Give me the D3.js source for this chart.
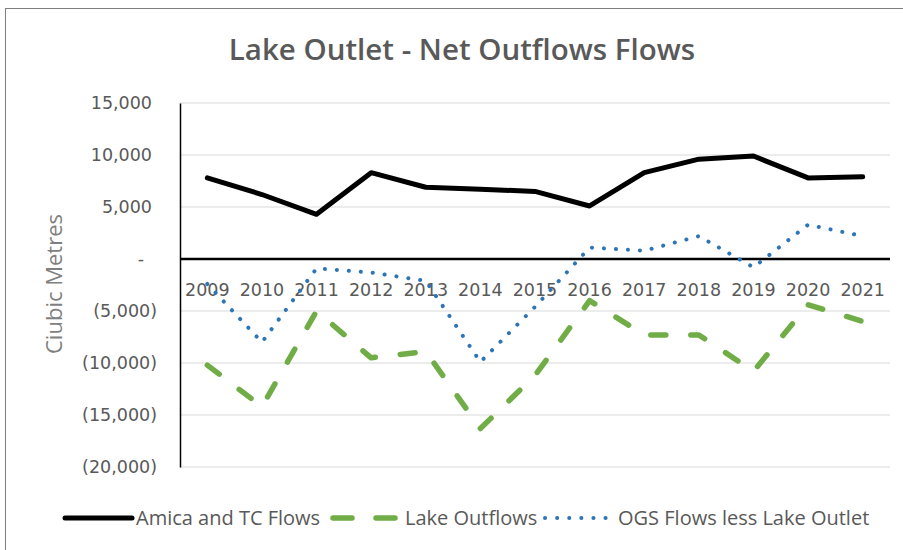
<!DOCTYPE html>
<html>
<head>
<meta charset="utf-8">
<script src="https://cdn.jsdelivr.net/npm/d3@7"></script>
<style>
  body { margin: 0; background: #fff; }
  svg { display: block; }
</style>
</head>
<body>
<div id="chart"></div>
<script>
const years = ['2009','2010','2011','2012','2013','2014','2015','2016','2017','2018','2019','2020','2021'];
const amica = [7800, 6200, 4300, 8300, 6900, 6700, 6500, 5100, 8300, 9600, 9900, 7800, 7900];
const lakeOutflows = [-10200, -14200, -5000, -9500, -8900, -16300, -11200, -4000, -7300, -7300, -10800, -4400, -6000];
const ogs = [-2400, -8000, -900, -1300, -2100, -9900, -4600, 1100, 800, 2200, -800, 3300, 2200];
const yTicks = [15000, 10000, 5000, 0, -5000, -10000, -15000, -20000];
const seriesNames = ['Amica and TC Flows', 'Lake Outflows', 'OGS Flows less Lake Outlet'];

const width = 903;
const height = 550;
const margin = {top: 103, right: 13, bottom: 83, left: 180};
const textColor = '#595959';
const font = '"Open Sans", sans-serif';

const svg = d3.select('#chart')
  .append('svg')
  .attr('width', width)
  .attr('height', height);

// outer border (only top & left show in the crop)
svg.append('rect')
  .attr('x', 5.5).attr('y', 8.5)
  .attr('width', width + 10).attr('height', height + 10)
  .attr('fill', 'none').attr('stroke', '#7f7f7f').attr('stroke-width', 1);

const x = d3.scaleBand()
  .domain(years)
  .range([margin.left, width - margin.right]);

const y = d3.scaleLinear()
  .domain([-20000, 15000])
  .range([height - margin.bottom, margin.top]);

// gridlines
svg.append('g')
  .selectAll('line')
  .data(yTicks)
  .join('line')
    .attr('x1', margin.left).attr('x2', width - margin.right)
    .attr('y1', d => y(d)).attr('y2', d => y(d))
    .attr('stroke', '#d9d9d9').attr('stroke-width', 1);

// y axis, accounting style labels
const fmt = d => d === 0 ? '-' : d < 0 ? `(${d3.format(',')(-d)})` : d3.format(',')(d);
const yAxis = svg.append('g')
  .attr('transform', `translate(${margin.left},0)`)
  .call(d3.axisLeft(y).tickValues(yTicks).tickFormat(fmt).tickSize(0).tickPadding(23));
yAxis.select('.domain').attr('stroke', '#000').attr('stroke-width', 1.5);
yAxis.selectAll('text')
  .attr('font-family', '"DejaVu Sans", sans-serif')
  .attr('font-size', 17.5)
  .attr('fill', textColor)
  .attr('dx', d => d > 0 ? -5 : d === 0 ? -13 : 0);

// zero line
svg.append('line')
  .attr('x1', margin.left).attr('x2', width - margin.right)
  .attr('y1', y(0)).attr('y2', y(0))
  .attr('stroke', '#000').attr('stroke-width', 2.5);

// x labels sit just under the zero line
svg.append('g')
  .selectAll('text')
  .data(years)
  .join('text')
    .attr('x', d => x(d) + x.bandwidth() / 2)
    .attr('y', y(0) + 37)
    .attr('text-anchor', 'middle')
    .attr('font-family', '"DejaVu Sans", sans-serif')
    .attr('font-size', 17.5)
    .attr('fill', textColor)
    .text(d => d);

const line = d3.line()
  .x((d, i) => x(years[i]) + x.bandwidth() / 2)
  .y(d => y(d));

const styles = [
  {color: '#000000', width: 5, dash: null},
  {color: '#70ad47', width: 5.5, dash: '15,25'},
  {color: '#2e75b6', width: 4, dash: '0.1,11.9'}
];

[amica, lakeOutflows, ogs].forEach((s, i) => {
  svg.append('path')
    .datum(s)
    .attr('fill', 'none')
    .attr('stroke', styles[i].color)
    .attr('stroke-width', styles[i].width)
    .attr('stroke-linecap', 'round')
    .attr('stroke-linejoin', 'round')
    .attr('stroke-dasharray', styles[i].dash)
    .attr('d', line);
});

// title
svg.append('text')
  .attr('x', 462).attr('y', 60)
  .attr('text-anchor', 'middle')
  .attr('font-family', font)
  .attr('font-weight', 600)
  .attr('font-size', 29.5)
  .attr('fill', textColor)
  .text('Lake Outlet - Net Outflows Flows');

// y axis title
svg.append('text')
  .attr('transform', 'translate(62,284) rotate(-90)')
  .attr('text-anchor', 'middle')
  .attr('font-family', font)
  .attr('font-size', 22)
  .attr('fill', '#7f7f7f')
  .text('Ciubic Metres');

// legend
const legendY = 518;
const legendItems = [
  {x: 65, len: 67, dash: null, textX: 71},
  {x: 333, len: 62, dash: '19,24', textX: 72},
  {x: 545, len: 68, dash: '0.1,12', textX: 73}
];
const legend = svg.append('g');
seriesNames.forEach((name, i) => {
  const it = legendItems[i];
  const g = legend.append('g').attr('transform', `translate(${it.x},${legendY})`);
  g.append('line')
    .attr('x1', 0).attr('x2', it.len)
    .attr('y1', 0).attr('y2', 0)
    .attr('stroke', styles[i].color)
    .attr('stroke-width', styles[i].width)
    .attr('stroke-linecap', 'round')
    .attr('stroke-dasharray', it.dash);
  g.append('text')
    .attr('x', it.textX)
    .attr('y', 7)
    .attr('font-family', font)
    .attr('font-size', 20)
    .attr('fill', textColor)
    .text(name);
});
</script>
</body>
</html>
